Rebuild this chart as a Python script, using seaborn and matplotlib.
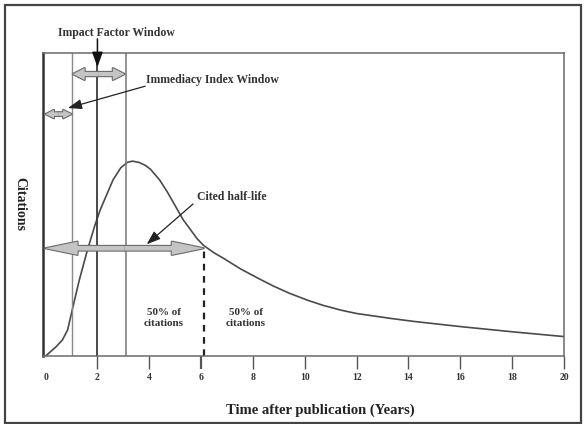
import matplotlib
matplotlib.use("Agg")
import matplotlib.pyplot as plt
from matplotlib.patches import Rectangle, FancyArrowPatch
import seaborn as sns
import pandas as pd

# ---- data ----
years = [0, 0.4, 0.65, 0.85, 1.05, 1.3, 1.6, 1.9, 2.1, 2.4, 2.6, 2.9, 3.15, 3.35,
         3.6, 3.85, 4.05, 4.4, 4.7, 5.0, 5.3, 5.6, 5.85, 6.1, 6.5, 6.9, 7.5, 8.2,
         8.8, 9.4, 10.1, 10.7, 11.4, 12.0, 13.3, 14.2, 16.1, 18.1, 20]
citations = [0, 3.0, 5.3, 8.6, 16, 25, 34.5, 43, 48, 54, 58, 62, 63.8, 64.2,
             63.8, 62.8, 61.5, 58, 54, 49.5, 45, 41.5, 38.6, 36.4, 34, 32, 28.8, 25.6,
             23.0, 20.7, 18.4, 16.7, 15.1, 14.0, 12.4, 11.4, 9.6, 7.9, 6.4]
window_lines = [1.0, 2.0, 3.1]
half_life = 6.1
half_life_level = 35.5
tick_values = [0, 2, 4, 6, 8, 10, 12, 14, 16, 18, 20]
tick_labels = ["0", "2", "4", "6", "8", "10", "12", "14", "16", "18", "20"]

df = pd.DataFrame({"year": years, "citations": citations})

sns.set_theme(style="white")
plt.rcParams["font.family"] = ["Liberation Serif", "DejaVu Serif"]
plt.rcParams["font.weight"] = "bold"

fig = plt.figure(figsize=(5.84, 4.24), dpi=100)
ax = fig.add_axes([43 / 584, 1 - 356 / 424, 521 / 584, (356 - 52.5) / 424])

sns.lineplot(data=df, x="year", y="citations", ax=ax, color="#4a4a4a", lw=1.2)
for ln in ax.lines:
    ln.set_solid_joinstyle("round")

ax.set_xlim(-0.1, 20)
ax.set_ylim(0, 100)

# spines
for s in ["top", "right", "bottom"]:
    ax.spines[s].set_color("#6a6a6a")
    ax.spines[s].set_linewidth(1.1)
ax.spines["left"].set_color("#333333")
ax.spines["left"].set_linewidth(1.8)

# window lines
ax.axvline(window_lines[0], color="#8a8a8a", lw=1.0)
ax.axvline(window_lines[1], color="#3a3a3a", lw=1.3)
ax.axvline(window_lines[2], color="#777777", lw=1.1)

# half-life dashed line
ax.plot([half_life, half_life], [0, 36.4], ls=(0, (3, 2.5)), color="#222222", lw=1.6)

# ticks
ax.set_xticks(tick_values)
ax.set_xticklabels(tick_labels, fontsize=7, fontweight="bold", color="#333333")
ax.set_yticks([])
ax.tick_params(axis="x", direction="out", length=9.5, width=1.0, color="#555555",
               pad=2.5, bottom=True)
ax.xaxis.get_major_ticks()[0].tick1line.set_visible(False)
ax.xaxis.get_major_ticks()[3].tick1line.set_color("#222222")
ax.xaxis.get_major_ticks()[3].tick1line.set_markeredgewidth(1.6)

ax.set_xlabel("Time after publication (Years)", fontsize=10.5, fontweight="bold",
              color="#222222", va="center")
ax.xaxis.set_label_coords(0.532, -0.178)
ax.set_ylabel("Citations", fontsize=10, fontweight="bold", color="#222222",
              rotation=270, va="center", ha="center")
ax.yaxis.set_label_coords(-0.044, 0.5)


def double_arrow(x0, x1, y, hl, hw, tw):
    xm = (x0 + x1) / 2
    style = f"simple,head_length={hl},head_width={hw},tail_width={tw}"
    for layer in range(2):
        for end in (x0, x1):
            if layer == 0:
                kw = dict(facecolor="#6b6b6b", edgecolor="#6b6b6b", lw=1.6)
            else:
                kw = dict(facecolor="#c4c4c4", edgecolor="none", lw=0)
            p = FancyArrowPatch((xm, y), (end, y), arrowstyle=style,
                                mutation_scale=10, shrinkA=0, shrinkB=0,
                                clip_on=False, zorder=3 + layer, **kw)
            ax.add_patch(p)


double_arrow(0.0, 1.0, 79.7, 0.6, 0.6, 0.26)
double_arrow(1.05, 3.05, 92.9, 0.85, 0.85, 0.3)
double_arrow(0.0, half_life, half_life_level, 2.3, 0.95, 0.33)

# labels and pointer arrows
ax.annotate("", xy=(2.0, 95.2), xytext=(2.0, 104.5),
            arrowprops=dict(arrowstyle="-|>,head_length=0.75,head_width=0.27",
                            color="#111111", lw=1.1, shrinkA=0, shrinkB=0),
            annotation_clip=False)
ax.text(2.72, 106.3, "Impact Factor Window", fontsize=8.5, fontweight="bold",
        color="#333333", ha="center", va="center", clip_on=False)

ax.text(3.86, 91.0, "Immediacy Index Window", fontsize=8.5, fontweight="bold",
        color="#333333", ha="left", va="center")
ax.annotate("", xy=(0.86, 81.7), xytext=(3.84, 88.9),
            arrowprops=dict(arrowstyle="-|>,head_length=0.7,head_width=0.25",
                            color="#222222", lw=0.9, shrinkA=0, shrinkB=0))

ax.text(5.86, 52.4, "Cited half-life", fontsize=8.5, fontweight="bold",
        color="#333333", ha="left", va="center")
ax.annotate("", xy=(3.9, 36.8), xytext=(5.69, 50.1),
            arrowprops=dict(arrowstyle="-|>,head_length=0.7,head_width=0.25",
                            color="#222222", lw=0.9, shrinkA=0, shrinkB=0),
            zorder=6)

ax.text(4.57, 12.5, "50% of\ncitations", fontsize=8, fontweight="bold",
        color="#333333", ha="center", va="center", linespacing=1.25)
ax.text(7.73, 12.5, "50% of\ncitations", fontsize=8, fontweight="bold",
        color="#333333", ha="center", va="center", linespacing=1.25)

# outer frame
fig.patches.append(Rectangle((5 / 584, 1 / 424), 576 / 584, 418 / 424,
                             transform=fig.transFigure, fill=False,
                             edgecolor="#444444", lw=1.6))

fig.savefig("out.png", dpi=100)
